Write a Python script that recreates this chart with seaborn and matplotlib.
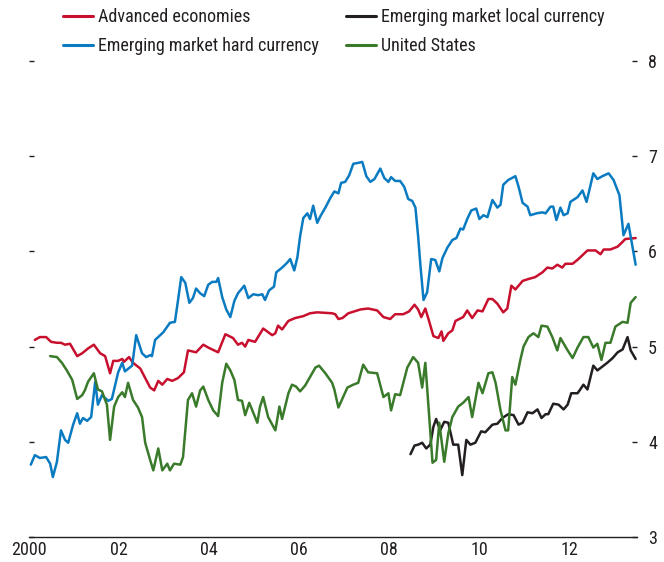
import numpy as np
import pandas as pd
import matplotlib
matplotlib.use('Agg')
import matplotlib.pyplot as plt
import matplotlib.font_manager as fm
import seaborn as sns
from matplotlib.ticker import MultipleLocator, FixedLocator

# series (year, value)
adv_x = [2000.13, 2000.24, 2000.38, 2000.49, 2000.62, 2000.71, 2000.80, 2000.91, 2001.07, 2001.18,
         2001.31, 2001.44, 2001.58, 2001.69, 2001.80, 2001.87, 2001.98, 2002.07, 2002.11, 2002.22,
         2002.31, 2002.47, 2002.58, 2002.69, 2002.78, 2002.87, 2002.96, 2003.07, 2003.18, 2003.31,
         2003.44, 2003.53, 2003.71, 2003.87, 2003.98, 2004.20, 2004.36, 2004.53, 2004.64, 2004.73,
         2004.80, 2004.87, 2005.02, 2005.20, 2005.40, 2005.47, 2005.53, 2005.62, 2005.76, 2005.91,
         2006.09, 2006.24, 2006.40, 2006.73, 2006.80, 2006.87, 2006.96, 2007.09, 2007.36, 2007.53,
         2007.73, 2007.87, 2008.02, 2008.13, 2008.31, 2008.44, 2008.56, 2008.64, 2008.71, 2008.80,
         2008.87, 2008.98, 2009.09, 2009.16, 2009.20, 2009.31, 2009.40, 2009.47, 2009.64, 2009.73,
         2009.84, 2009.96, 2010.07, 2010.20, 2010.29, 2010.40, 2010.53, 2010.62, 2010.71, 2010.80,
         2010.96, 2011.09, 2011.24, 2011.40, 2011.51, 2011.62, 2011.73, 2011.84, 2011.91, 2012.07,
         2012.20, 2012.40, 2012.58, 2012.69, 2012.76, 2012.91, 2013.07, 2013.18, 2013.24, 2013.47]
adv_y = [5.07, 5.10, 5.10, 5.05, 5.04, 5.04, 5.02, 5.03, 4.90, 4.93,
         4.98, 5.02, 4.93, 4.90, 4.72, 4.85, 4.85, 4.87, 4.84, 4.89,
         4.83, 4.77, 4.67, 4.57, 4.54, 4.64, 4.60, 4.66, 4.64, 4.67,
         4.73, 4.96, 4.94, 5.02, 4.99, 4.94, 5.13, 5.09, 5.02, 5.04,
         5.00, 5.07, 5.05, 5.19, 5.12, 5.14, 5.22, 5.18, 5.27, 5.30,
         5.32, 5.35, 5.36, 5.35, 5.34, 5.29, 5.30, 5.35, 5.39, 5.40,
         5.38, 5.31, 5.29, 5.34, 5.34, 5.37, 5.44, 5.39, 5.31, 5.40,
         5.29, 5.11, 5.09, 5.16, 5.06, 5.14, 5.17, 5.27, 5.31, 5.38,
         5.30, 5.38, 5.37, 5.50, 5.50, 5.45, 5.36, 5.40, 5.64, 5.60,
         5.69, 5.71, 5.73, 5.78, 5.83, 5.82, 5.86, 5.83, 5.87, 5.87,
         5.92, 6.01, 6.01, 5.97, 6.02, 6.02, 6.05, 6.10, 6.13, 6.14]

hard_x = [2000.04, 2000.13, 2000.24, 2000.38, 2000.47, 2000.53, 2000.62, 2000.71, 2000.80, 2000.87,
          2000.98, 2001.07, 2001.13, 2001.20, 2001.29, 2001.38, 2001.47, 2001.53, 2001.62, 2001.76,
          2001.84, 2001.98, 2002.07, 2002.13, 2002.29, 2002.38, 2002.51, 2002.60, 2002.69, 2002.73,
          2002.80, 2002.98, 2003.13, 2003.24, 2003.31, 2003.38, 2003.47, 2003.56, 2003.64, 2003.71,
          2003.80, 2003.89, 2003.98, 2004.07, 2004.16, 2004.20, 2004.29, 2004.38, 2004.47, 2004.56,
          2004.64, 2004.78, 2004.87, 2004.98, 2005.09, 2005.18, 2005.24, 2005.33, 2005.44, 2005.49,
          2005.62, 2005.73, 2005.80, 2005.89, 2005.96, 2006.02, 2006.09, 2006.18, 2006.24, 2006.31,
          2006.40, 2006.47, 2006.58, 2006.69, 2006.78, 2006.87, 2006.93, 2007.02, 2007.11, 2007.20,
          2007.31, 2007.40, 2007.49, 2007.58, 2007.67, 2007.80, 2007.89, 2007.98, 2008.04, 2008.13,
          2008.24, 2008.33, 2008.42, 2008.51, 2008.58, 2008.64, 2008.69, 2008.76, 2008.84, 2008.93,
          2009.02, 2009.11, 2009.18, 2009.29, 2009.40, 2009.49, 2009.58, 2009.64, 2009.73, 2009.82,
          2009.93, 2010.00, 2010.09, 2010.18, 2010.29, 2010.40, 2010.47, 2010.53, 2010.64, 2010.80,
          2010.87, 2010.96, 2011.07, 2011.13, 2011.27, 2011.40, 2011.47, 2011.58, 2011.64, 2011.71,
          2011.80, 2011.87, 2011.96, 2012.02, 2012.18, 2012.29, 2012.38, 2012.53, 2012.62, 2012.73,
          2012.87, 2012.98, 2013.11, 2013.20, 2013.31, 2013.47]
hard_y = [3.76, 3.86, 3.83, 3.84, 3.77, 3.63, 3.79, 4.12, 4.02, 3.99,
          4.18, 4.30, 4.19, 4.25, 4.22, 4.26, 4.63, 4.39, 4.49, 4.43,
          4.45, 4.73, 4.83, 4.74, 4.80, 5.12, 4.93, 4.89, 4.91, 4.90,
          5.07, 5.15, 5.25, 5.26, 5.49, 5.73, 5.67, 5.46, 5.51, 5.61,
          5.56, 5.53, 5.65, 5.68, 5.68, 5.72, 5.52, 5.39, 5.31, 5.48,
          5.56, 5.64, 5.51, 5.55, 5.54, 5.55, 5.49, 5.59, 5.63, 5.78,
          5.83, 5.88, 5.92, 5.80, 5.94, 6.16, 6.35, 6.40, 6.34, 6.48,
          6.30, 6.37, 6.46, 6.56, 6.63, 6.61, 6.72, 6.73, 6.80, 6.92,
          6.93, 6.94, 6.79, 6.73, 6.76, 6.87, 6.77, 6.73, 6.78, 6.74,
          6.74, 6.68, 6.55, 6.53, 6.46, 6.16, 5.86, 5.49, 5.57, 5.92,
          5.91, 5.79, 5.93, 6.04, 6.12, 6.14, 6.24, 6.23, 6.34, 6.43,
          6.45, 6.34, 6.38, 6.36, 6.54, 6.46, 6.49, 6.70, 6.75, 6.79,
          6.68, 6.51, 6.47, 6.38, 6.40, 6.41, 6.40, 6.47, 6.47, 6.33,
          6.46, 6.38, 6.40, 6.52, 6.57, 6.64, 6.52, 6.82, 6.76, 6.79,
          6.82, 6.75, 6.59, 6.17, 6.29, 5.86]

local_x = [2008.47, 2008.56, 2008.64, 2008.73, 2008.82, 2008.91, 2008.98, 2009.04, 2009.13, 2009.22,
           2009.31, 2009.42, 2009.53, 2009.62, 2009.71, 2009.80, 2009.91, 2010.04, 2010.13, 2010.29,
           2010.40, 2010.51, 2010.64, 2010.76, 2010.87, 2010.96, 2011.07, 2011.18, 2011.29, 2011.38,
           2011.47, 2011.53, 2011.64, 2011.76, 2011.87, 2011.96, 2012.04, 2012.18, 2012.24, 2012.31,
           2012.40, 2012.53, 2012.62, 2012.73, 2012.84, 2012.96, 2013.07, 2013.18, 2013.29, 2013.36,
           2013.47]
local_y = [3.87, 3.96, 3.97, 3.99, 3.93, 3.97, 4.16, 4.24, 4.12, 4.21,
           4.20, 3.97, 3.97, 3.65, 4.02, 3.97, 3.99, 4.11, 4.10, 4.18,
           4.19, 4.25, 4.29, 4.28, 4.18, 4.20, 4.31, 4.30, 4.34, 4.25,
           4.29, 4.29, 4.40, 4.39, 4.34, 4.39, 4.51, 4.51, 4.55, 4.60,
           4.55, 4.80, 4.75, 4.79, 4.83, 4.88, 4.94, 4.97, 5.10, 4.96,
           4.87]

us_x = [2000.47, 2000.62, 2000.73, 2000.84, 2000.96, 2001.07, 2001.18, 2001.24, 2001.31, 2001.44,
        2001.53, 2001.62, 2001.73, 2001.80, 2001.89, 2001.98, 2002.07, 2002.13, 2002.20, 2002.31,
        2002.42, 2002.51, 2002.58, 2002.69, 2002.76, 2002.87, 2002.96, 2003.07, 2003.13, 2003.22,
        2003.36, 2003.42, 2003.53, 2003.62, 2003.71, 2003.80, 2003.87, 2003.98, 2004.09, 2004.20,
        2004.29, 2004.38, 2004.47, 2004.56, 2004.64, 2004.73, 2004.80, 2004.89, 2005.07, 2005.13,
        2005.20, 2005.31, 2005.47, 2005.56, 2005.62, 2005.76, 2005.84, 2005.93, 2006.02, 2006.13,
        2006.24, 2006.36, 2006.44, 2006.58, 2006.73, 2006.78, 2006.87, 2007.07, 2007.20, 2007.31,
        2007.42, 2007.53, 2007.73, 2007.87, 2007.98, 2008.04, 2008.13, 2008.24, 2008.40, 2008.53,
        2008.64, 2008.73, 2008.80, 2008.87, 2008.96, 2009.04, 2009.11, 2009.22, 2009.31, 2009.40,
        2009.53, 2009.64, 2009.76, 2009.84, 2009.98, 2010.07, 2010.20, 2010.29, 2010.36, 2010.47,
        2010.58, 2010.64, 2010.73, 2010.80, 2010.91, 2010.98, 2011.09, 2011.20, 2011.31, 2011.38,
        2011.51, 2011.62, 2011.73, 2011.80, 2011.96, 2012.07, 2012.18, 2012.31, 2012.42, 2012.53,
        2012.62, 2012.71, 2012.80, 2012.91, 2013.02, 2013.18, 2013.29, 2013.36, 2013.47]
us_y = [4.90, 4.89, 4.83, 4.75, 4.65, 4.45, 4.49, 4.54, 4.63, 4.72,
        4.55, 4.53, 4.39, 4.02, 4.37, 4.47, 4.52, 4.47, 4.62, 4.44,
        4.36, 4.26, 3.99, 3.81, 3.70, 3.93, 3.70, 3.77, 3.70, 3.77,
        3.76, 3.84, 4.44, 4.51, 4.37, 4.54, 4.58, 4.44, 4.33, 4.27,
        4.62, 4.82, 4.75, 4.65, 4.44, 4.43, 4.28, 4.41, 4.20, 4.37,
        4.47, 4.26, 4.12, 4.37, 4.24, 4.51, 4.60, 4.58, 4.53, 4.59,
        4.68, 4.78, 4.80, 4.72, 4.62, 4.55, 4.36, 4.57, 4.60, 4.62,
        4.81, 4.73, 4.72, 4.47, 4.51, 4.33, 4.50, 4.49, 4.78, 4.89,
        4.83, 4.57, 4.83, 4.37, 3.78, 3.81, 4.20, 3.79, 4.09, 4.26,
        4.37, 4.41, 4.47, 4.26, 4.62, 4.51, 4.72, 4.73, 4.62, 4.33,
        4.12, 4.12, 4.68, 4.60, 4.86, 5.00, 5.10, 5.14, 5.10, 5.22,
        5.21, 5.10, 4.96, 5.09, 4.96, 4.88, 4.99, 5.10, 5.10, 4.99,
        5.03, 4.86, 5.04, 5.04, 5.21, 5.26, 5.25, 5.46, 5.52]

names = ['Advanced economies', 'Emerging market hard currency',
         'Emerging market local currency', 'United States']
colors = ['#C8102E', '#0A7BC1', '#231F20', '#3A7A2B']

frames = []
for name, xs, ys in zip(names, [adv_x, hard_x, local_x, us_x], [adv_y, hard_y, local_y, us_y]):
    frames.append(pd.DataFrame({'year': xs, 'value': ys, 'series': name}))
df = pd.concat(frames, ignore_index=True)

sns.set_style('white')

# the original uses a narrow sans; pick whatever condensed face is around
fonts = fm.fontManager.ttflist
avail = {f.name for f in fonts}
stretch = 'normal'
fsize = 13.5
if 'Liberation Sans Narrow' in avail:
    family = 'Liberation Sans Narrow'
elif 'Roboto Condensed' in avail:
    family = 'Roboto Condensed'
    fsize = 13
elif any(f.name == 'DejaVu Sans' and 'condensed' in str(f.stretch) for f in fonts):
    family = 'DejaVu Sans'
    stretch = 'condensed'
    fsize = 12
elif any(f.name == 'Open Sans' and 'condensed' in str(f.stretch) for f in fonts):
    family = 'Open Sans'
    stretch = 'condensed'
    fsize = 12.5
else:
    family = 'Liberation Sans'
    fsize = 11.5
plt.rcParams['font.family'] = [family, 'DejaVu Sans']
plt.rcParams['font.stretch'] = stretch
txt_color = '#231F20'

fig = plt.figure(figsize=(6.64, 5.62), dpi=100)
ax = fig.add_axes([29 / 664, 25 / 562, 608 / 664, 476 / 562])

sns.lineplot(data=df, x='year', y='value', hue='series', hue_order=names,
             palette=dict(zip(names, colors)), estimator=None, sort=False,
             linewidth=1.8, ax=ax)

ax.set_xlim(2000, 2013.5)
ax.set_ylim(3, 8)
ax.set_xlabel('')
ax.set_ylabel('')

for side in ['top', 'left', 'right']:
    ax.spines[side].set_visible(False)
ax.spines['bottom'].set_color(txt_color)
ax.spines['bottom'].set_linewidth(1.0)

# x axis: labels on even years, minor ticks on odd years, ticks point up
ax.xaxis.set_major_locator(FixedLocator([2000, 2002, 2004, 2006, 2008, 2010, 2012]))
ax.xaxis.set_minor_locator(FixedLocator([2001, 2003, 2005, 2007, 2009, 2011, 2013]))
ax.set_xticklabels(['2000', '02', '04', '06', '08', '10', '12'])
ax.tick_params(axis='x', which='major', direction='in', length=5, width=1.0,
               color=txt_color, labelsize=fsize, labelcolor=txt_color, pad=3)
ax.tick_params(axis='x', which='minor', direction='in', length=3, width=1.0,
               color=txt_color)

# y axis: dashes on both sides, labels on the right
ax.yaxis.set_major_locator(MultipleLocator(1))
ax.tick_params(axis='y', which='major', direction='in', length=3.5, width=1.0,
               color=txt_color, left=True, right=True, labelleft=False,
               labelright=True, labelsize=fsize, labelcolor=txt_color, pad=8)

handles, labels = ax.get_legend_handles_labels()
for h in handles:
    h.set_linewidth(2.2)
ax.legend(handles, labels, ncol=2, loc='upper left', frameon=False,
          bbox_to_anchor=(63 / 664, 1 - 8 / 562), bbox_transform=fig.transFigure,
          borderaxespad=0, borderpad=0, fontsize=fsize, handlelength=1.65,
          handletextpad=0.3, columnspacing=1.5, labelspacing=0.62,
          labelcolor=txt_color)

fig.savefig('out.png', dpi=100)
